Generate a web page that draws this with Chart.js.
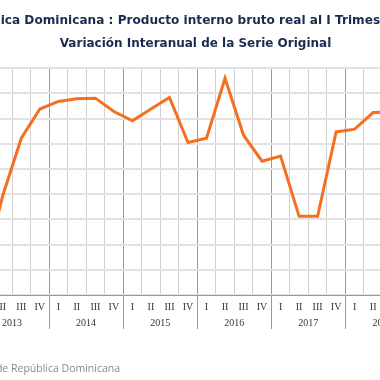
<!DOCTYPE html>
<html>
<head>
<meta charset="utf-8">
<script src="https://cdn.jsdelivr.net/npm/chart.js@4.4.0/dist/chart.umd.min.js"></script>
<style>
    html, body { margin: 0; padding: 0; background: #fff; }
    #wrap { position: relative; width: 380px; height: 380px; overflow: hidden; }
    #box { position: absolute; left: -65px; top: 0; width: 521px; height: 380px; }
    .src { position: absolute; top: 361px; font: 10.5px 'Open Sans', sans-serif; color: #8a8a8a; white-space: nowrap; }
    #srcPre { right: 369px; }
    #srcMain { left: 11px; }
</style>
</head>
<body>
<div id="wrap">
    <div id="box"><canvas id="chartPib"></canvas></div>
    <span class="src" id="srcPre">Fuente: Banco Central de&nbsp;</span>
    <span class="src" id="srcMain">República Dominicana</span>
</div>
<script>
const years = ['2013', '2014', '2015', '2016', '2017', '2018', '2019'];
const quartersPerYear = [4, 4, 4, 4, 4, 4, 1];
const quarterLabels = [
    'I', 'II', 'III', 'IV', 'I', 'II', 'III', 'IV', 'I', 'II', 'III', 'IV',
    'I', 'II', 'III', 'IV', 'I', 'II', 'III', 'IV', 'I', 'II', 'III', 'IV', 'I'
];
// variación interanual (%)
const variacion = [
    1.0, 3.95, 6.22, 7.38,
    7.68, 7.79, 7.81, 7.28,
    6.91, 7.38, 7.84, 6.05,
    6.22, 8.60, 6.34, 5.31,
    5.51, 3.12, 3.12, 6.47,
    6.58, 7.24, 7.26, 7.2,
    5.7
];
const yMin = 0;
const yMax = 9;
const yStep = 1;

// años debajo de los trimestres
const yearAxis = {
    id: 'yearAxis',
    afterDraw(chart) {
        const { ctx, chartArea } = chart;
        const x = chart.scales.x;
        const half = (x.getPixelForValue(1) - x.getPixelForValue(0)) / 2;
        let idx = 0;
        ctx.save();
        ctx.strokeStyle = '#9a9a9a';
        ctx.lineWidth = 1;
        ctx.fillStyle = '#333';
        ctx.font = '10px "Liberation Serif"';
        ctx.textAlign = 'center';
        ctx.textBaseline = 'middle';
        years.forEach((yr, g) => {
            const n = quartersPerYear[g];
            const left = x.getPixelForValue(idx) - half;
            const right = x.getPixelForValue(idx + n - 1) + half;
            const px = Math.round(left) + 0.5;
            ctx.beginPath();
            ctx.moveTo(px, chartArea.bottom);
            ctx.lineTo(px, chartArea.bottom + 34);
            ctx.stroke();
            ctx.fillText(yr, (left + right) / 2, chartArea.bottom + 28);
            idx += n;
        });
        ctx.restore();
    }
};

new Chart(document.getElementById('chartPib').getContext('2d'), {
    type: 'line',
    data: {
        labels: quarterLabels,
        datasets: [{
            data: variacion,
            borderColor: '#f47021',
            borderWidth: 3,
            pointRadius: 0,
            tension: 0,
            fill: false
        }]
    },
    options: {
        responsive: true, maintainAspectRatio: false,
        animation: false,
        layout: { padding: { left: 18, right: 18, top: 0, bottom: 0 } },
        plugins: {
            legend: { display: false },
            tooltip: { enabled: false },
            title: {
                display: true,
                text: 'República Dominicana : Producto interno bruto real al I Trimestre 2019',
                color: '#1b2a4e',
                font: { family: 'DejaVu Sans', size: 12.3, weight: 'bold' },
                padding: { top: 13, bottom: 9 }
            },
            subtitle: {
                display: true,
                text: 'Variación Interanual de la Serie Original',
                color: '#1b2a4e',
                font: { family: 'DejaVu Sans', size: 12, weight: 'bold' },
                padding: { top: 0, bottom: 17 }
            }
        },
        scales: {
            x: {
                offset: true,
                grid: {
                    offset: true,
                    drawTicks: false,
                    color: c => c.index % 4 === 0 ? '#9a9a9a' : '#d0d0d0'
                },
                border: { color: '#9a9a9a' },
                ticks: {
                    color: '#333',
                    font: { family: 'Liberation Serif', size: 10 },
                    padding: 6, maxRotation: 0, autoSkip: false
                },
                afterFit: s => { s.height = 85; }
            },
            y: {
                min: yMin, max: yMax,
                ticks: { stepSize: yStep, color: '#333', font: { size: 10 } },
                grid: { color: '#e2e2e2', lineWidth: 2 },
                border: { display: false },
                afterFit: s => { s.width = 22; }
            }
        }
    },
    plugins: [yearAxis]
});
</script>
</body>
</html>
